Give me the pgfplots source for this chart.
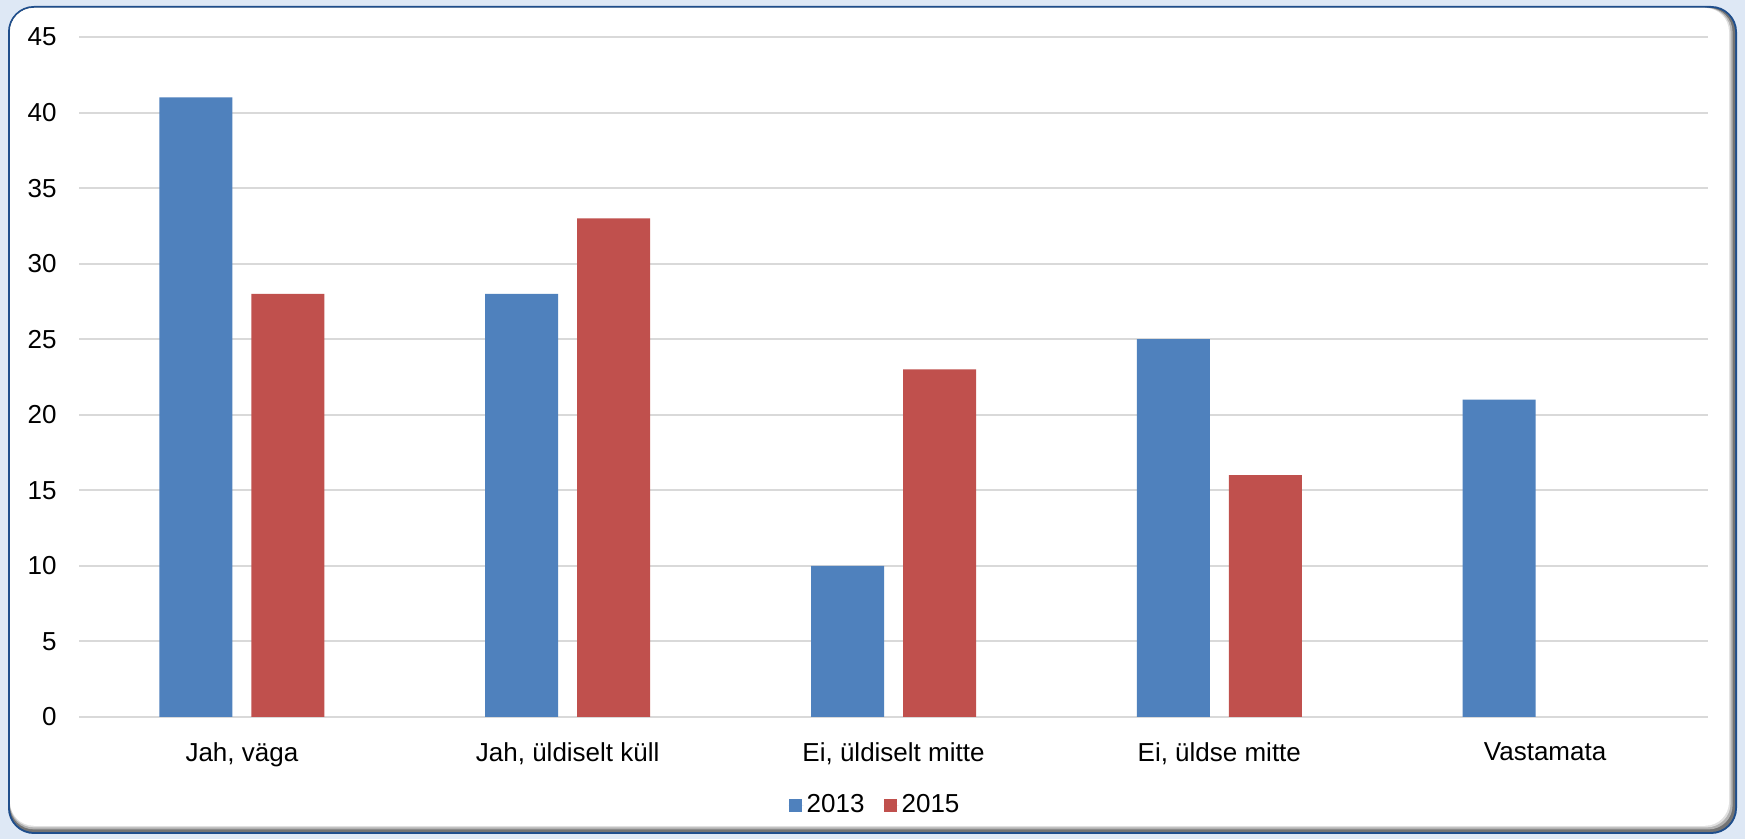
\documentclass[border=0pt]{standalone}
\usepackage{fontspec}
\setmainfont{Liberation Sans}
\usepackage{pgfplots}
\pgfplotsset{compat=1.18}
\definecolor{bgblue}{RGB}{222,232,245}
\definecolor{cardblue}{RGB}{31,78,140}
\definecolor{barblue}{RGB}{79,129,189}
\definecolor{barred}{RGB}{192,80,77}
\definecolor{gridgray}{RGB}{217,217,217}
\begin{document}
\begin{tikzpicture}
% background
\fill[bgblue] (0pt,0pt) rectangle (872.5pt,419.5pt);
% card with shadow
\fill[cardblue, rounded corners=13pt] (4pt,2.5pt) rectangle (868.5pt,416.5pt);
\fill[black!55, rounded corners=12pt] (5pt,3.5pt) rectangle (867.5pt,415.5pt);
\fill[black!30, rounded corners=12pt] (5pt,4.8pt) rectangle (866.3pt,415.5pt);
\fill[black!12, rounded corners=12pt] (5pt,5.8pt) rectangle (865.3pt,415.5pt);
\fill[white, rounded corners=12pt] (5pt,6.6pt) rectangle (864.5pt,415.5pt);
\begin{axis}[
  at={(39.5pt,61pt)}, anchor=south west,
  scale only axis, width=814.5pt, height=340pt,
  ymin=0, ymax=45, ytick={0,5,...,45},
  xmin=-0.5, xmax=4.5, xtick={0,1,2,3,4},
  xticklabels={{Jah, väga},{Jah, üldiselt küll},{Ei, üldiselt mitte},{Ei, üldse mitte},{Vastamata}},
  ybar=9.5pt, bar width=36.5pt,
  axis line style={draw=none}, tick style={draw=none},
  ymajorgrids, grid style={color=gridgray, line width=1pt},
  /pgf/number format/assume math mode=true,
  yticklabel style={font=\fontsize{13}{15}\selectfont, anchor=east, inner sep=0pt, xshift=-11pt},
  xticklabel style={font=\fontsize{13}{15}\selectfont, anchor=north, inner sep=0pt, yshift=-8.5pt},
  legend columns=2,
  legend style={at={(0.489,-0.13)}, anchor=center, draw=none, fill=none,
    font=\fontsize{13}{15}\selectfont,
    nodes={inner sep=1.5pt},
    /tikz/every even column/.append style={column sep=8pt}},
  legend image code/.code={\fill[#1] (0pt,-3.25pt) rectangle (6.5pt,3.25pt); \path (0pt,0pt) -- (7.5pt,0pt);},
]
\addplot[fill=barblue, draw=none] coordinates {(0,41) (1,28) (2,10) (3,25) (4,21)};
\addplot[fill=barred, draw=none] coordinates {(0,28) (1,33) (2,23) (3,16)};
\legend{2013,2015}
\end{axis}
\end{tikzpicture}
\end{document}
